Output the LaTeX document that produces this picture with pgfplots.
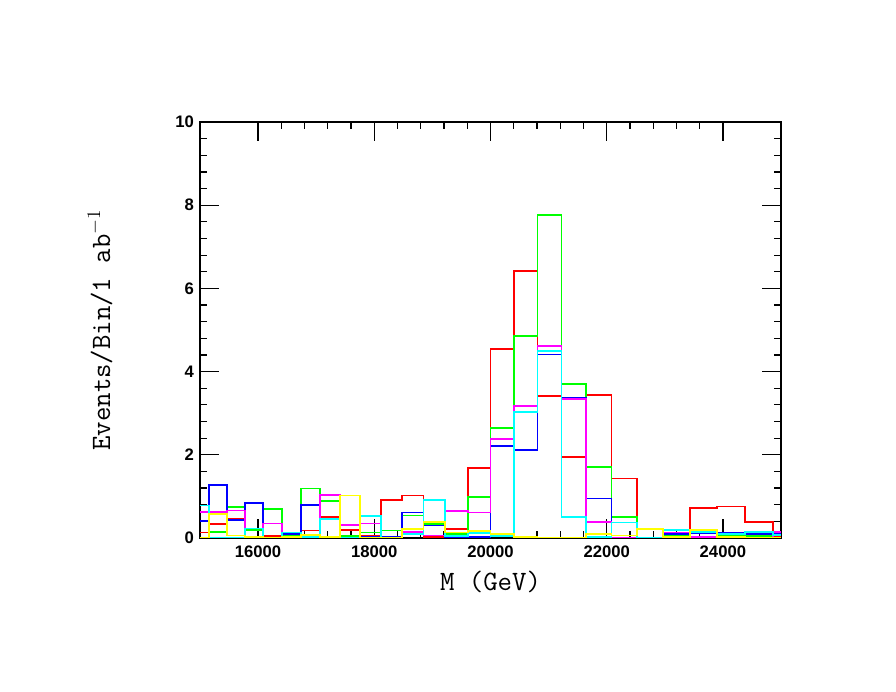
\documentclass[border=0pt]{standalone}
\usepackage{fontspec}
\usepackage{pgfplots}
\usepackage{pgfplotstable}
\pgfplotsset{compat=1.18}
\newfontfamily\tickfont{Liberation Sans}
\definecolor{hred}{RGB}{255,0,0}
\definecolor{hgreen}{RGB}{0,255,0}
\definecolor{hblue}{RGB}{0,0,255}
\definecolor{hmagenta}{RGB}{255,0,255}
\definecolor{hcyan}{RGB}{0,255,255}
\definecolor{hyellow}{RGB}{255,255,0}

% bins: edges 20000*1.02^k, clipped to [15000,25000]
% columns: left edge, red, green, blue, magenta, cyan, yellow
\pgfplotstableread{
x     r    g    b    m    c    y
15000 0.13 0.00 0.41 0.62 0.78 0.00
15156 0.34 0.14 1.27 0.62 0.00 0.57
15460 0.47 0.75 0.44 0.66 0.00 0.06
15769 0.00 0.20 0.84 0.00 0.23 0.02
16084 0.05 0.70 0.00 0.35 0.00 0.00
16406 0.03 0.05 0.09 0.00 0.13 0.02
16734 0.18 1.19 0.79 0.00 0.03 0.07
17069 0.50 0.89 0.00 1.03 0.45 0.02
17411 0.19 0.05 0.00 0.31 0.00 1.02
17759 0.05 0.13 0.02 0.35 0.53 0.00
18114 0.91 0.18 0.03 0.00 0.00 0.00
18477 1.02 0.54 0.61 0.15 0.10 0.21
18846 0.02 0.33 0.30 0.06 0.91 0.39
19223 0.21 0.10 0.03 0.65 0.05 0.13
19608 1.69 0.98 0.02 0.61 0.12 0.16
20000 4.55 2.65 2.22 2.38 0.05 0.09
20400 6.42 4.86 2.11 3.17 3.03 0.02
20808 3.41 7.77 4.41 4.62 4.50 0.00
21224 1.94 3.70 3.37 3.35 0.50 0.00
21649 3.44 1.71 0.95 0.38 0.02 0.10
22082 1.43 0.50 0.00 0.00 0.37 0.06
22523 0.00 0.00 0.00 0.00 0.00 0.22
22974 0.05 0.06 0.09 0.13 0.19 0.02
23433 0.72 0.13 0.11 0.03 0.15 0.19
23902 0.76 0.05 0.13 0.00 0.10 0.02
24380 0.38 0.05 0.10 0.00 0.15 0.00
24867 0.05 0.00 0.12 0.15 0.08 0.00
25000 0.05 0.00 0.12 0.15 0.08 0.00
}\hist

\begin{document}
\begin{tikzpicture}
\begin{axis}[
    name=ax,
    at={(0,0)}, anchor=south west,
    scale only axis,
    width=435.75pt, height=312pt,
    xmin=15000, xmax=25000,
    ymin=0, ymax=10,
    xtick={16000,18000,...,24000},
    ytick={0,2,...,10},
    minor tick num=4,
    scaled x ticks=false,
    /pgf/number format/set thousands separator={},
    /pgf/number format/assume math mode=true,
    tick align=inside,
    major tick length=14pt,
    minor tick length=5pt,
    every tick/.style={black, line width=0.9pt},
    axis line style={line width=1pt},
    tick label style={font=\tickfont\bfseries\fontsize{12.5}{14}\selectfont},
    yticklabel style={xshift=-1pt},
    xticklabel style={yshift=-2pt},
    xlabel={M (GeV)},
    ylabel={Events/Bin/1 ab$^{-1}$},
    xlabel style={font=\ttfamily\fontsize{21}{24}\selectfont,
        at={(axis description cs:0.5,-0.106)}, anchor=center},
    ylabel style={font=\ttfamily\fontsize{21}{24}\selectfont,
        at={(axis description cs:-0.172,0.5)}, anchor=center, rotate=0},
    every axis plot/.append style={const plot mark left, no marks, line width=1.3pt},
]
\addplot[color=hred] table[x=x, y=r] {\hist};
\addplot[color=hgreen] table[x=x, y=g] {\hist};
\addplot[color=hblue] table[x=x, y=b] {\hist};
\addplot[color=hmagenta] table[x=x, y=m] {\hist};
\addplot[color=hcyan] table[x=x, y=c] {\hist};
\addplot[color=hyellow] table[x=x, y=y] {\hist};
\end{axis}
\pgfresetboundingbox
\path (ax.south west) ++(-150pt,-115.5pt) rectangle ++(672pt,519pt);
\end{tikzpicture}
\end{document}
